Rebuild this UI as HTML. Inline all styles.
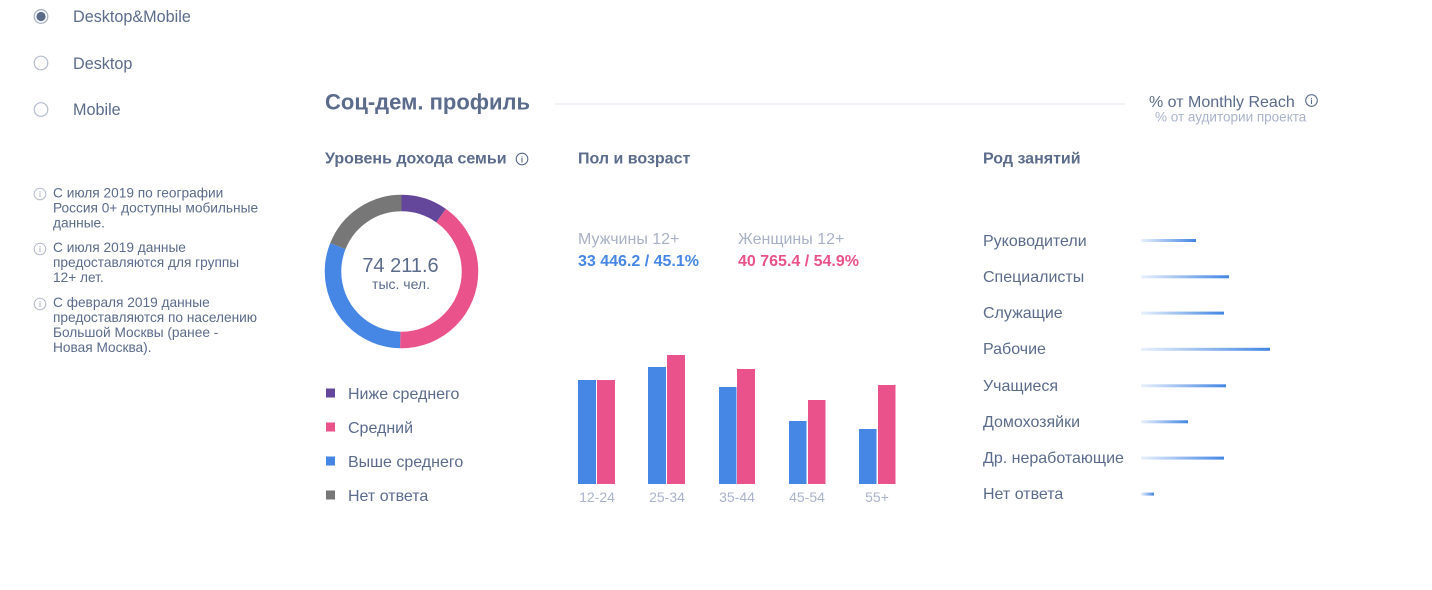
<!DOCTYPE html>
<html>
<head>
<meta charset="utf-8">
<style>
  html,body{margin:0;padding:0;background:#fff;}
  body{width:1432px;height:590px;overflow:hidden;}
  svg{display:block;font-family:"Liberation Sans", Arial, sans-serif;}
</style>
</head>
<body>
<svg width="1432" height="590" viewBox="0 0 1432 590" xmlns="http://www.w3.org/2000/svg">
  <defs>
    <linearGradient id="g" x1="0" y1="0" x2="1" y2="0">
      <stop offset="0" stop-color="#4285e4" stop-opacity="0.12"/>
      <stop offset="1" stop-color="#4285e4" stop-opacity="1"/>
    </linearGradient>
  </defs>

  <!-- radios -->
  <circle cx="41" cy="16.5" r="6.8" fill="#fff" stroke="#aab3c9" stroke-width="1.3"/>
  <circle cx="41" cy="16.5" r="4.6" fill="#5b6b8c"/>
  <circle cx="41" cy="63" r="6.8" fill="#fff" stroke="#b4bccf" stroke-width="1.2"/>
  <circle cx="41" cy="109.5" r="6.8" fill="#fff" stroke="#b4bccf" stroke-width="1.2"/>
  <g fill="#5b6b8c" font-size="16.2">
    <text x="73" y="22">Desktop&amp;Mobile</text>
    <text x="73" y="69">Desktop</text>
    <text x="73" y="115">Mobile</text>
  </g>

  <!-- notes -->
  <g fill="none" stroke="#b3bbcd" stroke-width="1">
    <circle cx="40" cy="194" r="5.8"/>
    <circle cx="40" cy="249" r="5.8"/>
    <circle cx="40" cy="304" r="5.8"/>
  </g>
  <g fill="#b3bbcd" font-size="8" font-weight="bold" text-anchor="middle">
    <text x="40" y="197">i</text>
    <text x="40" y="252">i</text>
    <text x="40" y="307">i</text>
  </g>
  <g fill="#5b6b8c" font-size="13.7">
    <text x="53" y="197.5">С июля 2019 по географии</text>
    <text x="53" y="212.5">Россия 0+ доступны мобильные</text>
    <text x="53" y="227.5">данные.</text>
    <text x="53" y="252">С июля 2019 данные</text>
    <text x="53" y="267">предоставляются для группы</text>
    <text x="53" y="282">12+ лет.</text>
    <text x="53" y="307">С февраля 2019 данные</text>
    <text x="53" y="322">предоставляются по населению</text>
    <text x="53" y="337">Большой Москвы (ранее -</text>
    <text x="53" y="352">Новая Москва).</text>
  </g>

  <!-- title -->
  <text x="325" y="109.5" font-size="22" font-weight="bold" fill="#5b6b8c">Соц-дем. профиль</text>
  <rect x="555" y="103.5" width="570" height="1" fill="#e1e5f1"/>
  <text x="1149" y="107" font-size="16" fill="#5b6b8c">% от Monthly Reach</text>
  <circle cx="1311.5" cy="100.5" r="5.8" fill="none" stroke="#5b6b8c" stroke-width="1.1"/>
  <text x="1311.5" y="104" font-size="8" font-weight="bold" fill="#5b6b8c" text-anchor="middle">i</text>
  <text x="1155" y="121.5" font-size="13.5" fill="#a9b3ca">% от аудитории проекта</text>

  <!-- headings -->
  <g font-size="16" font-weight="bold" fill="#5b6b8c">
    <text x="325" y="163.5">Уровень дохода семьи</text>
    <text x="578" y="163.5">Пол и возраст</text>
    <text x="983" y="163.5">Род занятий</text>
  </g>
  <circle cx="522" cy="159" r="5.8" fill="none" stroke="#5b6b8c" stroke-width="1.1"/>
  <text x="522" y="162.5" font-size="8" font-weight="bold" fill="#5b6b8c" text-anchor="middle">i</text>

  <!-- donut -->
  <g transform="rotate(-90 401.5 271.5)" fill="none" stroke-width="16.5">
    <circle cx="401.5" cy="271.5" r="68.5" stroke="#64479a" stroke-dasharray="42.2 500" stroke-dashoffset="0"/>
    <circle cx="401.5" cy="271.5" r="68.5" stroke="#e9528a" stroke-dasharray="174.2 500" stroke-dashoffset="-42.2"/>
    <circle cx="401.5" cy="271.5" r="68.5" stroke="#4686e5" stroke-dasharray="132.3 500" stroke-dashoffset="-216.4"/>
    <circle cx="401.5" cy="271.5" r="68.5" stroke="#777777" stroke-dasharray="81.7 500" stroke-dashoffset="-348.7"/>
  </g>
  <text x="400.5" y="272" font-size="20" fill="#5b6b8c" text-anchor="middle">74 211.6</text>
  <text x="401" y="289" font-size="14" fill="#5b6b8c" text-anchor="middle">тыс. чел.</text>

  <!-- donut legend -->
  <rect x="326" y="388.5" width="9" height="9" fill="#64479a"/>
  <rect x="326" y="422.5" width="9" height="9" fill="#e9528a"/>
  <rect x="326" y="456.5" width="9" height="9" fill="#4686e5"/>
  <rect x="326" y="490.5" width="9" height="9" fill="#777777"/>
  <g font-size="16" fill="#5b6b8c">
    <text x="348" y="399">Ниже среднего</text>
    <text x="348" y="433">Средний</text>
    <text x="348" y="467">Выше среднего</text>
    <text x="348" y="501">Нет ответа</text>
  </g>

  <!-- gender -->
  <text x="578" y="244" font-size="16" fill="#a9b1c8">Мужчины 12+</text>
  <text x="738" y="244" font-size="16" fill="#a9b1c8">Женщины 12+</text>
  <text x="578" y="266" font-size="16" font-weight="bold" fill="#4686e5">33 446.2 / 45.1%</text>
  <text x="738" y="266" font-size="16" font-weight="bold" fill="#e9528a">40 765.4 / 54.9%</text>

  <!-- age bars -->
  <g fill="#4686e5">
    <rect x="578" y="380" width="18" height="104"/>
    <rect x="648" y="367" width="18" height="117"/>
    <rect x="719" y="387" width="17.5" height="97"/>
    <rect x="789" y="421" width="17.5" height="63"/>
    <rect x="859" y="429" width="17.5" height="55"/>
  </g>
  <g fill="#e9528a">
    <rect x="597" y="380" width="18" height="104"/>
    <rect x="667" y="355" width="18" height="129"/>
    <rect x="737" y="369" width="18" height="115"/>
    <rect x="808" y="400" width="17.5" height="84"/>
    <rect x="878" y="385" width="17.5" height="99"/>
  </g>
  <g font-size="14" fill="#a9b3ca" text-anchor="middle">
    <text x="597" y="502">12-24</text>
    <text x="667" y="502">25-34</text>
    <text x="737" y="502">35-44</text>
    <text x="807" y="502">45-54</text>
    <text x="877" y="502">55+</text>
  </g>

  <!-- occupation -->
  <g font-size="16" fill="#5b6b8c">
    <text x="983" y="246">Руководители</text>
    <text x="983" y="282">Специалисты</text>
    <text x="983" y="318">Служащие</text>
    <text x="983" y="354">Рабочие</text>
    <text x="983" y="391">Учащиеся</text>
    <text x="983" y="427">Домохозяйки</text>
    <text x="983" y="463">Др. неработающие</text>
    <text x="983" y="499">Нет ответа</text>
  </g>
  <g>
    <rect x="1141" y="239" width="55" height="3" fill="url(#g)"/>
    <rect x="1141" y="275.3" width="88" height="3" fill="url(#g)"/>
    <rect x="1141" y="311.6" width="83" height="3" fill="url(#g)"/>
    <rect x="1141" y="347.8" width="129" height="3" fill="url(#g)"/>
    <rect x="1141" y="384.3" width="85" height="3" fill="url(#g)"/>
    <rect x="1141" y="420.3" width="47" height="3" fill="url(#g)"/>
    <rect x="1141" y="456.6" width="83" height="3" fill="url(#g)"/>
    <rect x="1141" y="492.6" width="13" height="3" fill="url(#g)"/>
  </g>
</svg>
</body>
</html>
